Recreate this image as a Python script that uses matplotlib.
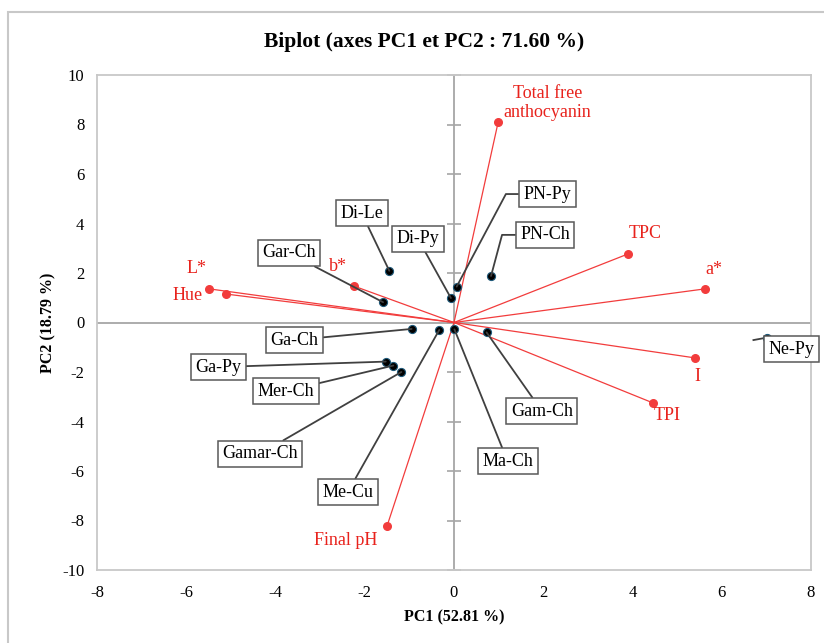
import matplotlib
matplotlib.use("Agg")
import matplotlib.pyplot as plt
from matplotlib.patches import Rectangle

plt.rcParams['font.family'] = ['Liberation Serif', 'DejaVu Serif']
plt.rcParams['axes.unicode_minus'] = False

# Variables (red vectors)
var_names = ["Total free\nanthocyanin", "TPC", "a*", "I", "TPI", "Final pH", "L*", "Hue", "b*"]
var_pc1 = [0.99, 3.90, 5.63, 5.40, 4.46, -1.50, -5.49, -5.11, -2.24]
var_pc2 = [8.10, 2.77, 1.36, -1.43, -3.25, -8.22, 1.36, 1.15, 1.47]

# Observations (black dots)
obs_names = ["Di-Le", "Di-Py", "Gar-Ch", "Ga-Ch", "Ga-Py", "Mer-Ch", "Gamar-Ch",
             "Me-Cu", "Ma-Ch", "Gam-Ch", "PN-Py", "PN-Ch", "Ne-Py"]
obs_pc1 = [-1.45, -0.07, -1.59, -0.95, -1.53, -1.36, -1.18, -0.33, 0.01, 0.73, 0.06, 0.83, 7.01]
obs_pc2 = [2.09, 0.99, 0.82, -0.26, -1.58, -1.74, -2.00, -0.30, -0.28, -0.40, 1.45, 1.88, -0.61]

# label placement (layout only)
var_label_pos = [(2.09, 8.87), (4.28, 3.58), (5.83, 2.16), (5.45, -2.20), (4.78, -3.74),
                 (-2.42, -8.79), (-5.76, 2.20), (-5.96, 1.11), (-2.60, 2.28)]
obs_label_pos = [(-2.07, 4.42), (-0.81, 3.39), (-3.70, 2.81), (-3.57, -0.71), (-5.28, -1.80),
                 (-3.77, -2.77), (-4.35, -5.31), (-2.38, -6.85), (1.20, -5.60), (1.97, -3.58),
                 (2.09, 5.19), (2.04, 3.54), (7.56, -1.09)]

red = "#f23c3c"
red_text = "#e8221c"

fig = plt.figure(figsize=(8.24, 6.43), dpi=100)
ax = fig.add_axes([97 / 824, 1 - 570 / 643, 714 / 824, 495 / 643])

# outer chart border
fig.patches.append(Rectangle((8 / 824, -0.1), 1.2, 1.1 - 12 / 643, transform=fig.transFigure,
                             fill=False, edgecolor="#c8c8c8", linewidth=1.5))

ax.set_xlim(-8, 8)
ax.set_ylim(-10, 10)
ax.set_xticks(range(-8, 9, 2))
ax.set_yticks(range(-10, 11, 2))
ax.tick_params(axis="x", length=0, labelsize=12, pad=11)
ax.tick_params(axis="y", length=0, labelsize=12, pad=9)
for s in ax.spines.values():
    s.set_color("#c8c8c8")
    s.set_linewidth(1.3)

# zero axes with tick marks on the vertical one
ax.axhline(0, color="#a6a6a6", lw=1.3, zorder=1)
ax.axvline(0, color="#a6a6a6", lw=1.3, zorder=1)
yt = list(range(-10, 11, 2))
ax.plot([0] * len(yt), yt, ls="none", marker="_", ms=10, mew=1.2, color="#a6a6a6",
        zorder=1, clip_on=False)

# red vectors
for x, y in zip(var_pc1, var_pc2):
    ax.plot([0, x], [0, y], color=red, lw=0.9, zorder=2)
ax.scatter(var_pc1, var_pc2, s=30, color=red, zorder=3)
for name, (lx, ly) in zip(var_names, var_label_pos):
    ax.text(lx, ly, name, color=red_text, fontsize=13, ha="center", va="center",
            linespacing=1.15)

# observations
ax.scatter(obs_pc1, obs_pc2, s=34, color="black", edgecolors="#1f5a7a", linewidths=0.8, zorder=4)
box = dict(boxstyle="square,pad=0.25", fc="white", ec="#595959", lw=1.1)
for i, name in enumerate(obs_names):
    lx, ly = obs_label_pos[i]
    if name == "PN-Py":
        cs = "angle,angleA=180,angleB=62,rad=0"
        rp = (0, 0.5)
    elif name == "PN-Ch":
        cs = "angle,angleA=180,angleB=75,rad=0"
        rp = (0, 0.5)
    else:
        cs = "arc3"
        rp = (0.5, 0.5)
    if name == "Ne-Py":
        ax.plot([obs_pc1[i], obs_pc1[i] - 0.3], [obs_pc2[i], obs_pc2[i] - 0.1],
                color="#404040", lw=1.3, zorder=3)
        ax.text(lx, ly, name, fontsize=13, ha="center", va="center", bbox=box, zorder=5)
        continue
    ax.annotate(name, xy=(obs_pc1[i], obs_pc2[i]), xytext=(lx, ly), fontsize=13,
                ha="center", va="center", bbox=box, zorder=5,
                arrowprops=dict(arrowstyle="-", color="#404040", lw=1.3,
                                connectionstyle=cs, relpos=rp, shrinkA=0, shrinkB=0))

ax.set_xlabel("PC1 (52.81 %)", fontsize=11.5, fontweight="bold", labelpad=6)
ax.set_ylabel("PC2 (18.79 %)", fontsize=11.5, fontweight="bold", labelpad=4)
fig.text(424 / 824, 1 - 42 / 643, "Biplot (axes PC1 et PC2 : 71.60 %)", fontsize=15.5,
         fontweight="bold", ha="center", va="center")

fig.savefig("out.png", dpi=100)
